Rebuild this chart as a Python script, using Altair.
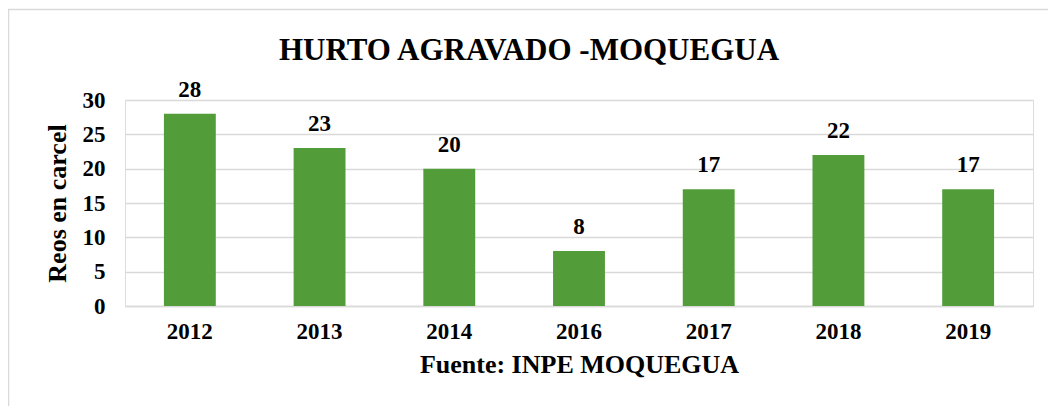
import altair as alt
import pandas as pd

years = ["2012", "2013", "2014", "2016", "2017", "2018", "2019"]
reos = [28, 23, 20, 8, 17, 22, 17]
title_text = ["HURTO AGRAVADO -MOQUEGUA"]

df = pd.DataFrame({"anio": years, "reos": reos})

FONT = "Liberation Serif"
W, H = 908, 206
PL, PT, PR, PB = 117, 92, 15, 100

x = alt.X("anio:N", sort=years,
          scale=alt.Scale(paddingInner=0.6, paddingOuter=0.3),
          axis=alt.Axis(title="Fuente: INPE MOQUEGUA", labelAngle=0, ticks=False,
                        domain=True, domainColor="#d9d9d9", domainWidth=1.5,
                        labelPadding=14, titlePadding=8,
                        labelFont=FONT, labelFontSize=23, labelFontWeight="bold", labelColor="black",
                        titleFont=FONT, titleFontSize=26, titleFontWeight="bold", titleColor="black"))
y = alt.Y("reos:Q", scale=alt.Scale(domain=[0, 30]),
          axis=alt.Axis(title="Reos en carcel", values=[0, 5, 10, 15, 20, 25, 30], ticks=False,
                        domain=False, grid=True, gridColor="#d9d9d9", gridWidth=1.5,
                        labelPadding=20, titlePadding=12,
                        labelFont=FONT, labelFontSize=23, labelFontWeight="bold", labelColor="black",
                        titleFont=FONT, titleFontSize=26, titleFontWeight="bold", titleColor="black"))

bars = alt.Chart(df).mark_bar(color="#529d3a").encode(x=x, y=y)
labels = alt.Chart(df).mark_text(font=FONT, fontSize=23, fontWeight="bold", color="black",
                                 baseline="alphabetic", dy=-17).encode(x=x, y=y, text="reos:Q")

border = alt.Chart(pd.DataFrame({"a": [0]})).mark_rect(
    fill=None, stroke="#d9d9d9", strokeWidth=1.5).encode(
    x=alt.value(-PL + 0.5), x2=alt.value(W + PR + 30),
    y=alt.value(-PT + 1.5), y2=alt.value(H + PB + 30))

title = alt.Chart(pd.DataFrame({"t": title_text})).mark_text(
    font=FONT, fontSize=31, fontWeight="bold", color="black", baseline="alphabetic",
    align="center").encode(x=alt.value(404), y=alt.value(-40), text="t:N")

chart = alt.layer(border, bars, labels, title).properties(
    width=W, height=H,
    autosize=alt.AutoSizeParams(type="none"),
    padding={"left": PL, "top": PT, "right": PR, "bottom": PB},
).configure_view(stroke=None).configure(background="white")

chart.save("out.html", embed_options={"renderer": "svg", "actions": False})
